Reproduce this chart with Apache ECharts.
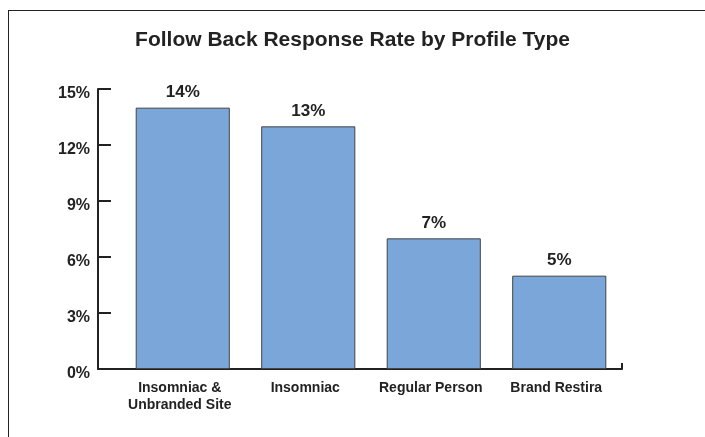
<!DOCTYPE html>
<html>
<head>
<meta charset="utf-8">
<script src="https://cdn.jsdelivr.net/npm/echarts@6/dist/echarts.min.js"></script>
<style>
  html, body { margin: 0; padding: 0; background: #fff; }
  #chart { position: absolute; left: 0; top: 0; width: 705px; height: 437px; }
  .frame { position: absolute; left: 8px; top: 10px; right: 0; bottom: 0;
    border-top: 1px solid #222; border-left: 1px solid #222; pointer-events: none; }
</style>
</head>
<body>
<div id="chart"></div>
<div class="frame"></div>
<script>
// data
const categories = ["Insomniac &\nUnbranded Site", "Insomniac", "Regular Person", "Brand Restira"];
const rates = [14, 13, 7, 5];
const yTicks = { min: 0, max: 15, step: 3 };

const font = "Liberation Sans, Arial, sans-serif";
const ink = "#222";

const myChart = echarts.init(document.getElementById("chart"));
myChart.setOption({
  animation: false,
  title: {
    text: "Follow Back Response Rate by Profile Type",
    left: "center",
    top: 25,
    textStyle: { fontFamily: font, fontSize: 21, fontWeight: "bold", color: ink },
  },
  grid: [
    { left: 120, right: 83, top: 89, bottom: 68 },
    // wider grid only used to draw the full length x axis line
    { left: 98, right: 83, top: 89, bottom: 68 },
  ],
  xAxis: [
    {
      type: "category",
      gridIndex: 0,
      data: categories,
      axisLine: { show: false },
      axisTick: { show: false },
      axisLabel: {
        interval: 0,
        margin: 11,
        fontFamily: font,
        fontSize: 14,
        fontWeight: "bold",
        color: ink,
        lineHeight: 17,
        padding: [0, 6, 0, 0],
      },
    },
    {
      type: "value",
      gridIndex: 1,
      min: 0,
      max: 1,
      interval: 1,
      axisLine: { show: true, lineStyle: { color: ink, width: 2 } },
      axisTick: { show: true, inside: true, length: 6, lineStyle: { color: ink, width: 2 } },
      axisLabel: { show: false },
      splitLine: { show: false },
    },
  ],
  yAxis: [
    {
      type: "value",
      gridIndex: 0,
      min: yTicks.min,
      max: yTicks.max,
      interval: yTicks.step,
      offset: 22,
      axisLine: { show: true, lineStyle: { color: ink, width: 2 } },
      axisTick: { show: true, inside: true, length: 13, lineStyle: { color: ink, width: 2 } },
      splitLine: { show: false },
      axisLabel: {
        formatter: "{value}%",
        margin: 8,
        fontFamily: font,
        fontSize: 16,
        fontWeight: "bold",
        color: ink,
        verticalAlign: "top",
        lineHeight: 10,
      },
    },
    {
      type: "value",
      gridIndex: 1,
      min: yTicks.min,
      max: yTicks.max,
      show: false,
    },
  ],
  series: [
    {
      type: "bar",
      xAxisIndex: 0,
      yAxisIndex: 0,
      data: rates,
      barWidth: "75%",
      itemStyle: { color: "#7ba6d9", borderColor: "#444", borderWidth: 1 },
      label: {
        show: true,
        position: "top",
        distance: 7,
        formatter: "{c}%",
        fontFamily: font,
        fontSize: 17,
        fontWeight: "bold",
        color: ink,
      },
    },
  ],
});
</script>
</body>
</html>
